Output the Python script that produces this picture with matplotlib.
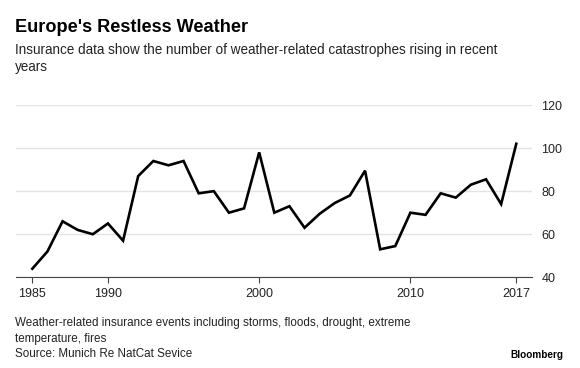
import matplotlib
matplotlib.use("Agg")
import matplotlib.pyplot as plt

years = list(range(1985, 2018))
events = [44, 52, 66, 62, 60, 65, 57, 87, 94, 92, 94, 79, 80, 70, 72, 98,
          70, 73, 63, 69.5, 74.5, 78, 89.5, 53, 54.5, 70, 69, 79, 77, 83, 85.5, 74, 102]
xticks = [1985, 1990, 2000, 2010, 2017]
yticks = [40, 60, 80, 100, 120]

plt.rcParams['font.family'] = ['Liberation Sans', 'DejaVu Sans']

fig = plt.figure(figsize=(5.8, 3.68), dpi=100)
ax = fig.add_axes([16/580, 1-277.3/368, (531.7-16)/580, (277.3-105)/368])

ax.plot(years, events, color='black', lw=1.9, solid_joinstyle='miter', zorder=3)
ax.set_xlim(1983.92, 2018.02)
ax.set_ylim(40, 120)
ax.set_xticks(xticks)
ax.set_xticklabels([str(t) for t in xticks])
ax.set_yticks(yticks)
ax.yaxis.tick_right()
ax.grid(axis='y', color='#e3e3e3', lw=1.0, zorder=0)
ax.set_axisbelow(True)
for s in ['top', 'left', 'right']:
    ax.spines[s].set_visible(False)
ax.spines['bottom'].set_color('#444444')
ax.spines['bottom'].set_linewidth(0.8)
ax.tick_params(axis='x', length=4, width=0.8, color='#444444', labelsize=9, pad=4, labelcolor='#222222')
ax.tick_params(axis='y', length=0, labelsize=9, pad=7, labelcolor='#222222')

fig.text(15/580, 1-28/368, "Europe's Restless Weather", fontsize=13.1, fontweight='bold', va='center', ha='left', color='black')
fig.text(15/580, 1-50/368, "Insurance data show the number of weather-related catastrophes rising in recent",
         fontsize=9.75, va='center', ha='left', color='#222222')
fig.text(15/580, 1-67/368, "years", fontsize=9.75, va='center', ha='left', color='#222222')

fig.text(15/580, 1-323/368, "Weather-related insurance events including storms, floods, drought, extreme",
         fontsize=8.4, va='center', ha='left', color='#222222')
fig.text(15/580, 1-339/368, "temperature, fires", fontsize=8.4, va='center', ha='left', color='#222222')
fig.text(15/580, 1-354/368, "Source: Munich Re NatCat Sevice", fontsize=8.4, va='center', ha='left', color='#222222')
fig.text(563/580, 1-355/368, "Bloomberg", fontsize=7.2, fontweight='bold', va='center', ha='right', color='black')

fig.savefig("out.png", dpi=100)
